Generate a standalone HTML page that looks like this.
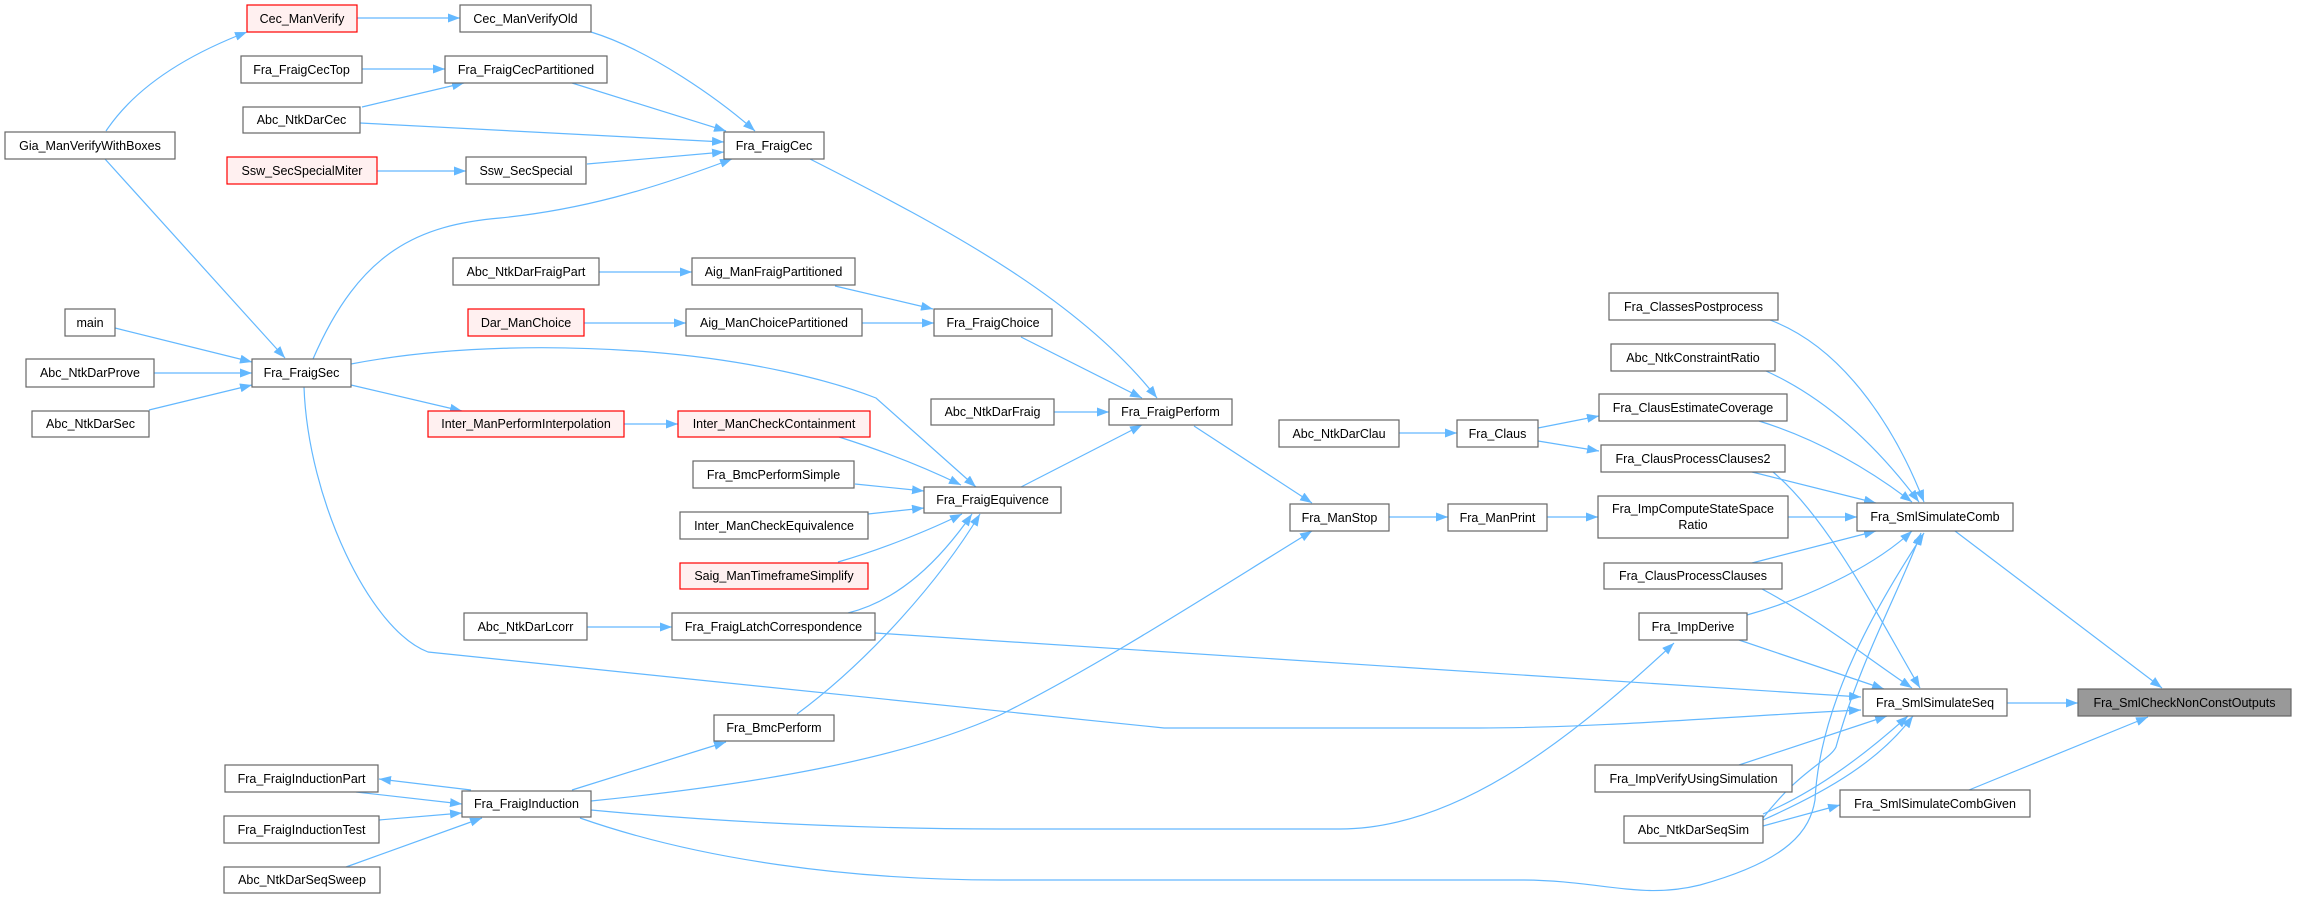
<!DOCTYPE html>
<html><head><meta charset="utf-8"><style>
html,body{margin:0;padding:0;background:#fff}
svg{display:block}
text{font-family:"Liberation Sans",Arial,sans-serif;font-size:12.5px;fill:#000}
.n{fill:#fff;stroke:#666;stroke-width:1.2}
.r{fill:#fff0f0;stroke:#ff0000;stroke-width:1.2}
.g{fill:#999;stroke:#666;stroke-width:1.2}
.e{fill:none;stroke:#63b8ff;stroke-width:1.2;marker-end:url(#a)}
</style></head><body>
<svg width="2297" height="899" viewBox="0 0 2297 899" xmlns="http://www.w3.org/2000/svg">
<defs><marker id="a" markerUnits="userSpaceOnUse" markerWidth="12" markerHeight="9" refX="12" refY="4.5" orient="auto"><path d="M0,0 L12,4.5 L0,9 z" fill="#63b8ff"/></marker></defs>
<g>
<path class="e" d="M357,18 L460,18"/>
<path class="e" d="M106,131 C140,80 200,50 247,32"/>
<path class="e" d="M105,159 L285,358"/>
<path class="e" d="M591,32 C650,50 720,100 755,131"/>
<path class="e" d="M362,69 L445,69"/>
<path class="e" d="M362,107 L464,83"/>
<path class="e" d="M572,83 L726,131"/>
<path class="e" d="M360,123 L724,142"/>
<path class="e" d="M377,171 L466,171"/>
<path class="e" d="M587,164 L724,152"/>
<path class="e" d="M313,359 C360,250 420,225 500,218 C580,210 650,190 732,159"/>
<path class="e" d="M810,159 C950,230 1080,300 1157,398"/>
<path class="e" d="M599,272 L692,272"/>
<path class="e" d="M584,323 L686,323"/>
<path class="e" d="M835,286 L933,309"/>
<path class="e" d="M862,323 L934,323"/>
<path class="e" d="M1021,337 L1142,398"/>
<path class="e" d="M1054,412 L1109,412"/>
<path class="e" d="M1021,487 L1142,425"/>
<path class="e" d="M1194,426 L1312,503"/>
<path class="e" d="M115,328 L252,362"/>
<path class="e" d="M154,373 L252,373"/>
<path class="e" d="M149,410 L252,385"/>
<path class="e" d="M351,364 C450,345 560,345 650,352 C750,360 830,380 876,398 L976,487"/>
<path class="e" d="M351,385 L462,411"/>
<path class="e" d="M624,424 L678,424"/>
<path class="e" d="M839,437 C880,450 920,465 961,485"/>
<path class="e" d="M855,484 L924,491"/>
<path class="e" d="M868,514 L924,508"/>
<path class="e" d="M838,562 C880,550 930,530 962,514"/>
<path class="e" d="M848,613 C900,600 940,560 972,514"/>
<path class="e" d="M797,714 C870,660 940,580 980,514"/>
<path class="e" d="M587,627 L672,627"/>
<path class="e" d="M572,790 L726,742"/>
<path class="e" d="M471,790 L379,779"/>
<path class="e" d="M356,792 L462,804"/>
<path class="e" d="M379,820 L462,813"/>
<path class="e" d="M346,867 L482,818"/>
<path class="e" d="M591,801 C750,785 900,760 1000,715 C1100,665 1200,600 1312,531"/>
<path class="e" d="M591,810 C750,825 900,829 1000,829 L1340,829 C1450,829 1560,750 1674,643"/>
<path class="e" d="M580,818 C700,860 850,880 1000,880 L1520,880 C1600,880 1640,900 1700,885 C1790,860 1810,830 1815,800 C1820,700 1880,600 1924,533"/>
<path class="e" d="M304,387 C308,500 370,630 428,652 L1164,728 L1479,728 C1600,728 1750,715 1861,710"/>
<path class="e" d="M875,633 L1861,697"/>
<path class="e" d="M1399,433 L1457,433"/>
<path class="e" d="M1538,428 L1599,416"/>
<path class="e" d="M1538,441 L1599,451"/>
<path class="e" d="M1389,517 L1448,517"/>
<path class="e" d="M1547,517 L1598,517"/>
<path class="e" d="M1788,517 L1857,517"/>
<path class="e" d="M1770,320 C1850,350 1900,440 1924,502"/>
<path class="e" d="M1766,371 C1830,400 1880,450 1919,502"/>
<path class="e" d="M1759,421 C1820,440 1870,470 1912,502"/>
<path class="e" d="M1752,472 L1876,503"/>
<path class="e" d="M1773,472 C1830,520 1880,620 1920,688"/>
<path class="e" d="M1752,563 L1876,531"/>
<path class="e" d="M1762,589 C1820,620 1870,660 1912,688"/>
<path class="e" d="M1747,615 C1800,600 1870,570 1912,531"/>
<path class="e" d="M1739,640 L1884,689"/>
<path class="e" d="M1739,765 L1887,716"/>
<path class="e" d="M1763,814 C1820,790 1870,750 1908,716"/>
<path class="e" d="M1763,820 C1830,790 1880,760 1913,716"/>
<path class="e" d="M1763,818 C1800,770 1830,760 1836,747 C1860,660 1900,590 1921,533"/>
<path class="e" d="M1763,826 L1840,805"/>
<path class="e" d="M1955,531 L2162,688"/>
<path class="e" d="M2007,703 L2078,703"/>
<path class="e" d="M1969,790 L2148,717"/>
</g>
<g text-anchor="middle">
<rect class="r" x="247" y="5" width="110" height="27"/><text x="302" y="23">Cec_ManVerify</text>
<rect class="n" x="460" y="5" width="131" height="27"/><text x="525.5" y="23">Cec_ManVerifyOld</text>
<rect class="n" x="241" y="56" width="121" height="27"/><text x="301.5" y="74">Fra_FraigCecTop</text>
<rect class="n" x="445" y="56" width="162" height="27"/><text x="526" y="74">Fra_FraigCecPartitioned</text>
<rect class="n" x="243" y="107" width="117" height="26"/><text x="301.5" y="124">Abc_NtkDarCec</text>
<rect class="n" x="5" y="132" width="170" height="27"/><text x="90" y="150">Gia_ManVerifyWithBoxes</text>
<rect class="n" x="724" y="132" width="100" height="27"/><text x="774" y="150">Fra_FraigCec</text>
<rect class="r" x="227" y="157" width="150" height="27"/><text x="302" y="175">Ssw_SecSpecialMiter</text>
<rect class="n" x="466" y="157" width="120" height="27"/><text x="526" y="175">Ssw_SecSpecial</text>
<rect class="n" x="453" y="258" width="146" height="27"/><text x="526" y="276">Abc_NtkDarFraigPart</text>
<rect class="n" x="692" y="258" width="163" height="27"/><text x="773.5" y="276">Aig_ManFraigPartitioned</text>
<rect class="n" x="65" y="309" width="50" height="27"/><text x="90" y="327">main</text>
<rect class="r" x="468" y="309" width="116" height="27"/><text x="526" y="327">Dar_ManChoice</text>
<rect class="n" x="686" y="309" width="176" height="27"/><text x="774" y="327">Aig_ManChoicePartitioned</text>
<rect class="n" x="934" y="309" width="118" height="27"/><text x="993" y="327">Fra_FraigChoice</text>
<rect class="n" x="26" y="359" width="128" height="28"/><text x="90" y="377">Abc_NtkDarProve</text>
<rect class="n" x="252" y="359" width="99" height="28"/><text x="301.5" y="377">Fra_FraigSec</text>
<rect class="n" x="931" y="399" width="123" height="26"/><text x="992.5" y="416">Abc_NtkDarFraig</text>
<rect class="n" x="1109" y="399" width="123" height="26"/><text x="1170.5" y="416">Fra_FraigPerform</text>
<rect class="n" x="32" y="411" width="117" height="26"/><text x="90.5" y="428">Abc_NtkDarSec</text>
<rect class="r" x="428" y="411" width="196" height="26"/><text x="526" y="428">Inter_ManPerformInterpolation</text>
<rect class="r" x="678" y="411" width="192" height="26"/><text x="774" y="428">Inter_ManCheckContainment</text>
<rect class="n" x="693" y="461" width="161" height="27"/><text x="773.5" y="479">Fra_BmcPerformSimple</text>
<rect class="n" x="924" y="487" width="137" height="26"/><text x="992.5" y="504">Fra_FraigEquivence</text>
<rect class="n" x="680" y="512" width="188" height="27"/><text x="774" y="530">Inter_ManCheckEquivalence</text>
<rect class="r" x="680" y="563" width="188" height="26"/><text x="774" y="580">Saig_ManTimeframeSimplify</text>
<rect class="n" x="464" y="613" width="123" height="27"/><text x="525.5" y="631">Abc_NtkDarLcorr</text>
<rect class="n" x="672" y="613" width="203" height="27"/><text x="773.5" y="631">Fra_FraigLatchCorrespondence</text>
<rect class="n" x="714" y="715" width="120" height="26"/><text x="774" y="732">Fra_BmcPerform</text>
<rect class="n" x="225" y="765" width="153" height="27"/><text x="301.5" y="783">Fra_FraigInductionPart</text>
<rect class="n" x="462" y="791" width="129" height="26"/><text x="526.5" y="808">Fra_FraigInduction</text>
<rect class="n" x="224" y="816" width="155" height="27"/><text x="301.5" y="834">Fra_FraigInductionTest</text>
<rect class="n" x="224" y="867" width="156" height="26"/><text x="302" y="884">Abc_NtkDarSeqSweep</text>
<rect class="n" x="1609" y="293" width="169" height="27"/><text x="1693.5" y="311">Fra_ClassesPostprocess</text>
<rect class="n" x="1611" y="344" width="164" height="27"/><text x="1693" y="362">Abc_NtkConstraintRatio</text>
<rect class="n" x="1599" y="394" width="188" height="27"/><text x="1693" y="412">Fra_ClausEstimateCoverage</text>
<rect class="n" x="1279" y="420" width="120" height="27"/><text x="1339" y="438">Abc_NtkDarClau</text>
<rect class="n" x="1457" y="420" width="81" height="27"/><text x="1497.5" y="438">Fra_Claus</text>
<rect class="n" x="1601" y="445" width="184" height="27"/><text x="1693" y="463">Fra_ClausProcessClauses2</text>
<rect class="n" x="1290" y="504" width="99" height="27"/><text x="1339.5" y="522">Fra_ManStop</text>
<rect class="n" x="1448" y="504" width="99" height="27"/><text x="1497.5" y="522">Fra_ManPrint</text>
<rect class="n" x="1598" y="496" width="190" height="42"/><text x="1693" y="513">Fra_ImpComputeStateSpace</text><text x="1693" y="529">Ratio</text>
<rect class="n" x="1857" y="503" width="156" height="28"/><text x="1935" y="521">Fra_SmlSimulateComb</text>
<rect class="n" x="1604" y="563" width="178" height="26"/><text x="1693" y="580">Fra_ClausProcessClauses</text>
<rect class="n" x="1639" y="613" width="108" height="27"/><text x="1693" y="631">Fra_ImpDerive</text>
<rect class="n" x="1863" y="689" width="144" height="27"/><text x="1935" y="707">Fra_SmlSimulateSeq</text>
<rect class="g" x="2078" y="689" width="213" height="27"/><text x="2184.5" y="707">Fra_SmlCheckNonConstOutputs</text>
<rect class="n" x="1595" y="765" width="197" height="27"/><text x="1693.5" y="783">Fra_ImpVerifyUsingSimulation</text>
<rect class="n" x="1840" y="790" width="190" height="27"/><text x="1935" y="808">Fra_SmlSimulateCombGiven</text>
<rect class="n" x="1624" y="816" width="139" height="27"/><text x="1693.5" y="834">Abc_NtkDarSeqSim</text>
</g>
</svg>
</body></html>
